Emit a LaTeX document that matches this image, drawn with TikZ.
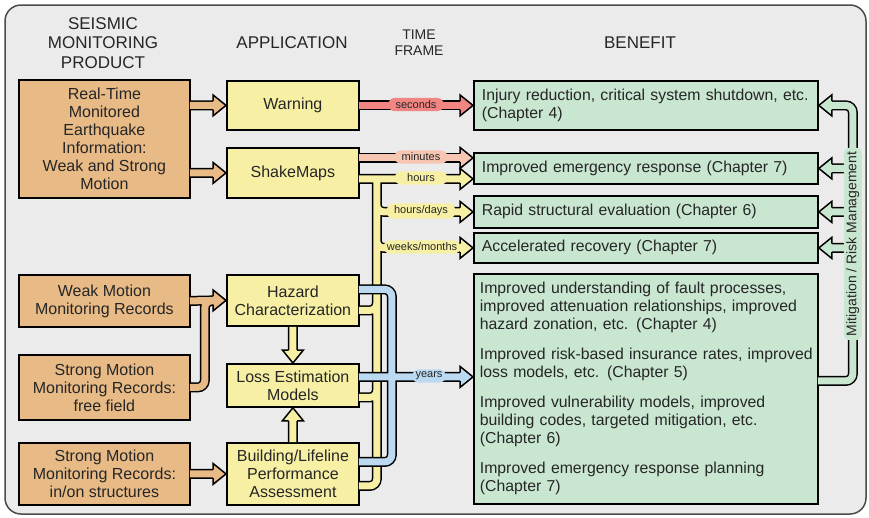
\documentclass[tikz,border=0pt]{standalone}
\usepackage{fontspec}
\setmainfont{Liberation Sans}
\usetikzlibrary{calc}

\definecolor{framefill}{HTML}{EBEBEC}
\definecolor{prodfill}{HTML}{E8BA86}
\definecolor{appfill}{HTML}{F7F0A4}
\definecolor{benfill}{HTML}{C9E6D0}
\definecolor{secfill}{HTML}{F08582}
\definecolor{minfill}{HTML}{F6C6B3}
\definecolor{yrsfill}{HTML}{BBDAF1}
\definecolor{ink}{HTML}{262626}

% open arrow head at the end of a pipe: fill, tip, angle
\newcommand{\pipehead}[3]{%
  \filldraw[fill=#1,draw=black,line width=1.5pt,shift={#2},rotate=#3]
    (-13,4.25) -- (-13,10.5) -- (0,0) -- (-13,-10.5) -- (-13,-4.25);}

\begin{document}
\begin{tikzpicture}[x=1pt,y=-1pt,
    product/.style={draw=black,line width=1.8pt,fill=prodfill,anchor=north west,
      minimum width=171pt,align=center,text=ink,inner sep=2pt,
      font=\fontsize{16}{18}\selectfont},
    app/.style={product,fill=appfill,minimum width=132pt},
    benefit/.style={draw=black,line width=1.8pt,fill=benfill,anchor=north west,
      align=left,text width=328pt,inner xsep=8pt,inner ysep=2pt,text=ink,
      font=\fontsize{15.8}{18}\selectfont},
    heading/.style={align=center,text=ink,font=\fontsize{17}{19.5}\selectfont},
    tlabel/.style={fill=#1,rounded corners=6pt,inner xsep=7pt,inner ysep=2.5pt,
      text=ink,font=\fontsize{11}{12}\selectfont},
    pipe/.style={draw=#1,line width=7pt,rounded corners=7pt,
      preaction={draw=black,line width=10pt}}]

  % page and frame
  \fill[white] (0,0) rectangle (869,517);
  \filldraw[fill=framefill,draw=black!70,line width=1.5pt,rounded corners=16pt]
    (5,5) rectangle (866,514);

  % column headings
  \node[heading] (hprod) at (103,43) {SEISMIC\\MONITORING\\PRODUCT};
  \node[heading] (happ) at (292,43) {APPLICATION};
  \node[heading,font=\fontsize{14}{16}\selectfont] (htime) at (419,43) {TIME\\FRAME};
  \node[heading] (hben) at (640,43) {BENEFIT};

  % products
  \node[product,minimum height=118pt] (rt) at (18,79)
    {Real-Time\\Monitored\\Earthquake\\Information:\\Weak and Strong\\Motion};
  \node[product,minimum height=52pt] (weak) at (18,274)
    {Weak Motion\\Monitoring Records};
  \node[product,minimum height=65pt] (sfree) at (18,354)
    {Strong Motion\\Monitoring Records:\\free field};
  \node[product,minimum height=62pt] (sstruct) at (18,442)
    {Strong Motion\\Monitoring Records:\\in/on structures};

  % applications
  \node[app,minimum height=49pt] (warn) at (226,80) {Warning};
  \node[app,minimum height=50pt] (shake) at (226,147) {ShakeMaps};
  \node[app,minimum height=51pt] (hazard) at (226,274) {Hazard\\Characterization};
  \node[app,minimum height=43pt] (loss) at (226,363) {Loss Estimation\\Models};
  \node[app,minimum height=62pt] (build) at (226,442)
    {Building/Lifeline\\Performance\\Assessment};

  % benefits
  \node[benefit,minimum height=49pt] (injury) at (473,80)
    {\mbox{Injury reduction, critical system shutdown, etc.}\\(Chapter 4)};
  \node[benefit,minimum height=31pt] (emerg) at (473,152)
    {Improved emergency response (Chapter 7)};
  \node[benefit,minimum height=32pt] (rapid) at (473,195)
    {Rapid structural evaluation (Chapter 6)};
  \node[benefit,minimum height=30pt] (accel) at (473,232)
    {Accelerated recovery (Chapter 7)};
  \node[benefit,minimum height=230pt,text width=332pt,inner xsep=6pt] (big) at (473,273)
    {Improved understanding of fault processes,\\
     \mbox{improved attenuation relationships, improved}\\
     hazard zonation, etc. (Chapter 4)\\[12pt]
     \mbox{Improved risk-based insurance rates, improved}\\
     loss models, etc. (Chapter 5)\\[12pt]
     Improved vulnerability models, improved\\
     building codes, targeted mitigation, etc.\\
     (Chapter 6)\\[12pt]
     Improved emergency response planning\\
     (Chapter 7)};

  \coordinate (trunk) at ($(shake.east)+(17,6)$);
  \coordinate (bluex) at ($(trunk)+(15,0)$);
  \coordinate (mitx) at ($(big.east)+(34,-8)$);

  % products -> applications
  \draw[pipe=prodfill]
    ($(rt.east |- warn.west)+(-1,0)$) -- ($(warn.west)+(-12,0)$)
    ($(rt.east |- shake.west)+(-1,0)$) -- ($(shake.west)+(-12,0)$)
    ($(sfree.east)+(-1,0)$) -- ($(sfree.east)+(14,0)$)
      -- ($(weak.east)+(14,0)$) -- ($(weak.east)+(24,0)$)
    ($(weak.east)+(-1,0)$) -- ($(hazard.west)+(-12,0)$)
    ($(sstruct.east)+(-1,0)$) -- ($(build.west)+(-12,0)$);
  \pipehead{prodfill}{(warn.west)}{0}
  \pipehead{prodfill}{(shake.west)}{0}
  \pipehead{prodfill}{(hazard.west)}{0}
  \pipehead{prodfill}{(build.west)}{0}

  % yellow network
  \draw[pipe=appfill]
    (hazard.south) -- ($(loss.north)+(0,-12)$)
    (build.north) -- ($(loss.south)+(0,12)$)
    ($(shake.east)+(-1,6)$) -- ($(emerg.west)+(-12,10.5)$)
    (trunk) -- ($(build.east)+(17,12)$) -- ($(build.east)+(-1,12)$)
    (trunk) -- (trunk |- rapid.west) -- ($(rapid.west)+(-12,0)$)
    (trunk) -- (trunk |- accel.west) -- ($(accel.west)+(-12,0)$)
    ($(hazard.east)+(-1,10)$) -| (trunk)
    ($(loss.east)+(-1,12)$) -| (trunk);
  \pipehead{appfill}{(loss.north)}{-90}
  \pipehead{appfill}{(loss.south)}{90}
  \pipehead{appfill}{($(emerg.west)+(0,10.5)$)}{0}
  \pipehead{appfill}{(rapid.west)}{0}
  \pipehead{appfill}{(accel.west)}{0}

  % seconds and minutes
  \draw[pipe=secfill] ($(warn.east)+(-1,0)$) -- ($(injury.west)+(-12,0)$);
  \pipehead{secfill}{(injury.west)}{0}
  \draw[pipe=minfill] ($(shake.east)+(-1,-15)$) -- ($(emerg.west)+(-12,-10.5)$);
  \pipehead{minfill}{($(emerg.west)+(0,-10.5)$)}{0}

  % blue network
  \draw[pipe=yrsfill]
    ($(hazard.east)+(-1,-11)$) -- ($(bluex |- hazard.east)+(0,-11)$)
      -- ($(bluex |- build.east)+(0,-12)$) -- ($(build.east)+(-1,-12)$)
    ($(loss.east)+(-1,-8.5)$) -- ($(big.west)+(-12,-12)$);
  \pipehead{yrsfill}{($(big.west)+(0,-12)$)}{0}

  % mitigation loop
  \draw[pipe=benfill]
    ($(big.east)+(-1,-8)$) -- (mitx) -- (mitx |- injury.east) -- ($(injury.east)+(12,0)$)
    (mitx |- emerg.east) -- ($(emerg.east)+(12,0)$)
    (mitx |- rapid.east) -- ($(rapid.east)+(12,0)$)
    (mitx |- accel.east) -- ($(accel.east)+(12,0)$);
  \pipehead{benfill}{(injury.east)}{180}
  \pipehead{benfill}{(emerg.east)}{180}
  \pipehead{benfill}{(rapid.east)}{180}
  \pipehead{benfill}{(accel.east)}{180}

  % time frame labels
  \node[tlabel=secfill] (lsec) at (416,104.5) {seconds};
  \node[tlabel=minfill] (lmin) at (421,157) {minutes};
  \node[tlabel=appfill,minimum width=52pt] (lhrs) at (421,178) {hours};
  \node[tlabel=appfill] (lhd) at (421,211) {hours/days};
  \node[tlabel=appfill,inner xsep=3pt] (lwm) at (422,247) {weeks/months};
  \node[tlabel=yrsfill,inner xsep=3pt] (lyrs) at (429,376) {years};
  \node[tlabel=benfill,rotate=90,font=\fontsize{14}{16}\selectfont,inner xsep=4pt]
    (lmit) at ($(mitx |- accel.east)+(0,-4)$) {Mitigation / Risk Management};
\end{tikzpicture}
\end{document}
